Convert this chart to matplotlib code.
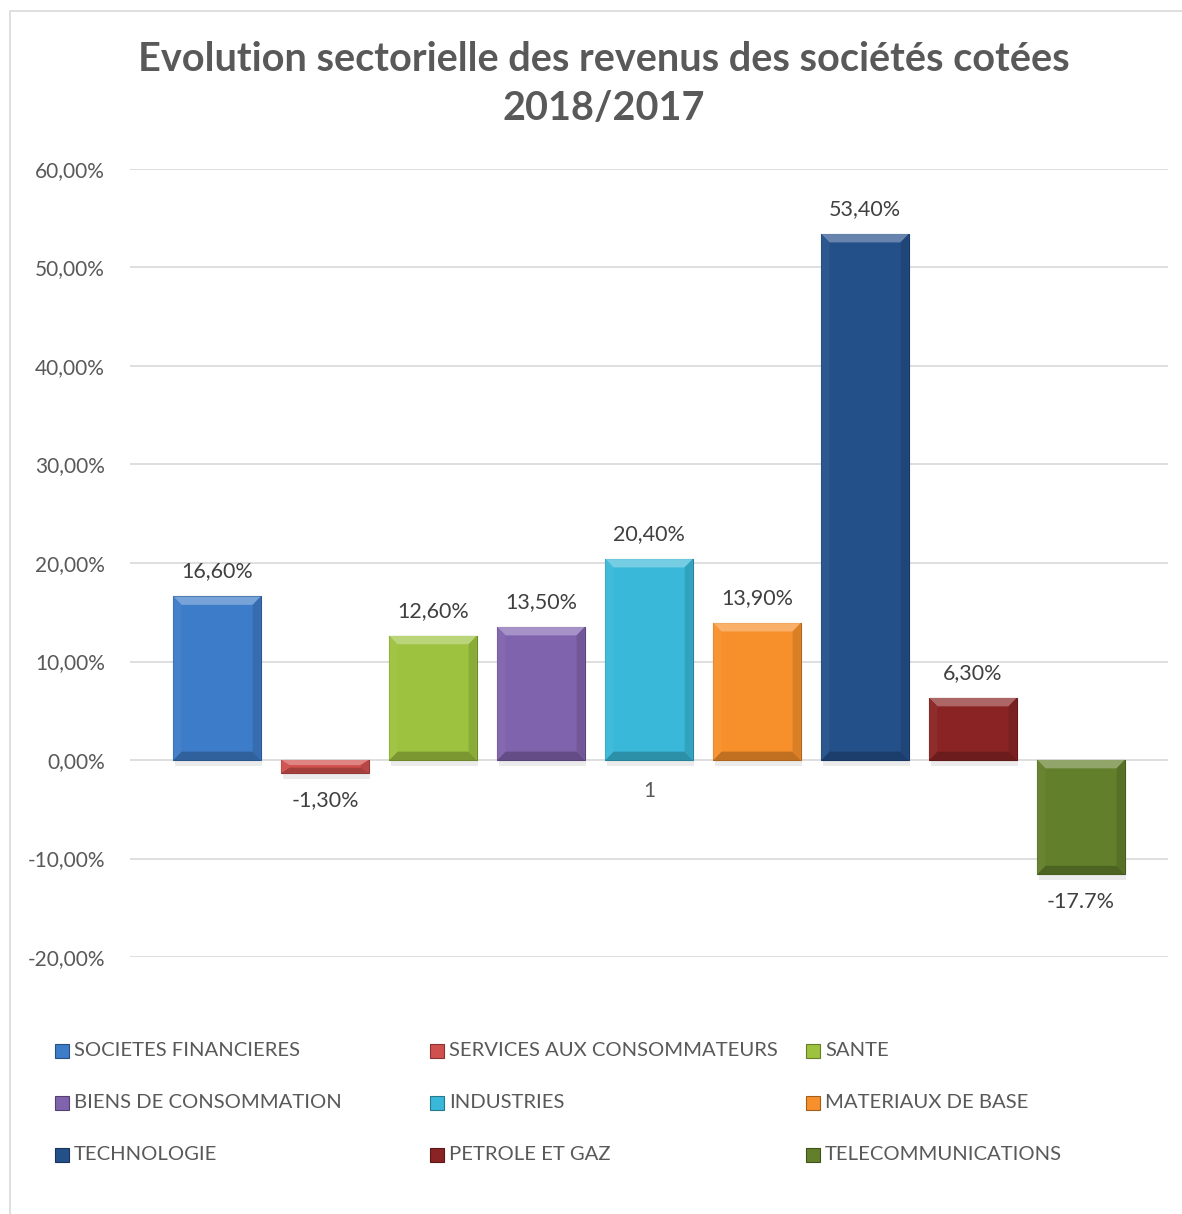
import matplotlib.pyplot as plt
from matplotlib.patches import Polygon, Rectangle
from matplotlib.colors import to_rgb

plt.rcParams['font.family'] = ['Lato', 'DejaVu Sans']

TITRE = "Evolution sectorielle des revenus des sociétés cotées\n2018/2017"
SECTEURS = ["SOCIETES FINANCIERES", "SERVICES AUX CONSOMMATEURS", "SANTE",
            "BIENS DE CONSOMMATION", "INDUSTRIES", "MATERIAUX DE BASE",
            "TECHNOLOGIE", "PETROLE ET GAZ", "TELECOMMUNICATIONS"]
VALEURS = [16.6, -1.3, 12.6, 13.5, 20.4, 13.9, 53.4, 6.3, -11.6]
ETIQUETTES = ["16,60%", "-1,30%", "12,60%", "13,50%", "20,40%", "13,90%",
              "53,40%", "6,30%", "-17.7%"]
COULEURS = ["#3d7cc9", "#d0504d", "#9dc23f", "#8063ad", "#3ab8d9", "#f7902a",
            "#24508a", "#8a2424", "#627f2b"]
GRAD_Y = [60, 50, 40, 30, 20, 10, 0, -10, -20]
GRAD_TXT = ["60,00%", "50,00%", "40,00%", "30,00%", "20,00%", "10,00%",
            "0,00%", "-10,00%", "-20,00%"]
CATEGORIE = "1"

GRIS = "#595959"


def melange(c, autre, t):
    c = to_rgb(c)
    o = to_rgb(autre)
    return tuple(c[i] * (1 - t) + o[i] * t for i in range(3))


def barre_biseau(ax, x, v, couleur, largeur=0.81):
    x0, x1 = x - largeur / 2, x + largeur / 2
    bas, haut = min(0, v), max(0, v)
    bx = 0.075
    by = min(0.85, (haut - bas) / 2.5)
    # ombre
    ax.add_patch(Rectangle((x0 + 0.015, bas - 0.6), largeur, haut - bas,
                           color="#000000", alpha=0.08, lw=0, zorder=2))
    ax.bar(x, v, width=largeur, color=couleur, edgecolor=melange(couleur, "black", 0.3),
           linewidth=0.8, zorder=3)
    ix0, ix1, ib, ih = x0 + bx, x1 - bx, bas + by, haut - by
    faces = [
        ([(x0, haut), (x1, haut), (ix1, ih), (ix0, ih)], melange(couleur, "white", 0.3)),
        ([(x0, bas), (x1, bas), (ix1, ib), (ix0, ib)], melange(couleur, "black", 0.22)),
        ([(x0, bas), (x0, haut), (ix0, ih), (ix0, ib)], melange(couleur, "white", 0.04)),
        ([(x1, bas), (x1, haut), (ix1, ih), (ix1, ib)], melange(couleur, "black", 0.12)),
    ]
    for pts, c in faces:
        ax.add_patch(Polygon(pts, closed=True, color=c, lw=0, zorder=4))


fig = plt.figure(figsize=(11.82, 12.14), dpi=100)
fig.patches.append(Rectangle((10 / 1182, -0.1), 2, 1 - 11 / 1214 + 0.1, transform=fig.transFigure,
                             fill=False, edgecolor="#d9d9d9", linewidth=1.2))

ax = fig.add_axes([130 / 1182, 257 / 1214, 1038 / 1182, 788 / 1214])
n = len(VALEURS)
for i, (v, c) in enumerate(zip(VALEURS, COULEURS)):
    barre_biseau(ax, i, v, c)
    if v >= 0:
        ax.annotate(ETIQUETTES[i], (i, v), xytext=(0, 18), textcoords="offset points",
                    ha="center", va="center", fontsize=15.5, color="#404040")
    else:
        ax.annotate(ETIQUETTES[i], (i, v), xytext=(0, -20), textcoords="offset points",
                    ha="center", va="center", fontsize=15.5, color="#404040")

ax.set_xlim(-0.806, n - 1 + 0.806)
ax.set_ylim(-20, 60)
ax.set_yticks(GRAD_Y)
ax.set_yticklabels(GRAD_TXT, fontsize=15, color=GRIS)
ax.tick_params(axis="y", length=0, pad=18)
ax.set_xticks([])
ax.grid(axis="y", color="#d9d9d9", linewidth=1.2, zorder=0)
ax.set_axisbelow(True)
for s in ax.spines.values():
    s.set_visible(False)
ax.annotate(CATEGORIE, ((n - 1) / 2, 0), xytext=(0, -22), textcoords="offset points",
            ha="center", va="center", fontsize=15, color=GRIS)

fig.text(604 / 1182, 1 - 84 / 1214, TITRE, ha="center", va="center", fontsize=28.5,
         fontweight="bold", color=GRIS, linespacing=1.4)

# légende
col_x = [55, 430, 806]
lig_y = [1051, 1103, 1155]
for i, (nom, c) in enumerate(zip(SECTEURS, COULEURS)):
    cx = col_x[i % 3]
    cy = lig_y[i // 3]
    fig.patches.append(Rectangle((cx / 1182, 1 - (cy + 7) / 1214), 14 / 1182, 14 / 1214,
                                 transform=fig.transFigure, facecolor=c,
                                 edgecolor=melange(c, "black", 0.35), linewidth=0.8))
    fig.text((cx + 19) / 1182, 1 - cy / 1214, nom, ha="left", va="center",
             fontsize=14.6, color=GRIS)

fig.savefig("out.png", dpi=100)
